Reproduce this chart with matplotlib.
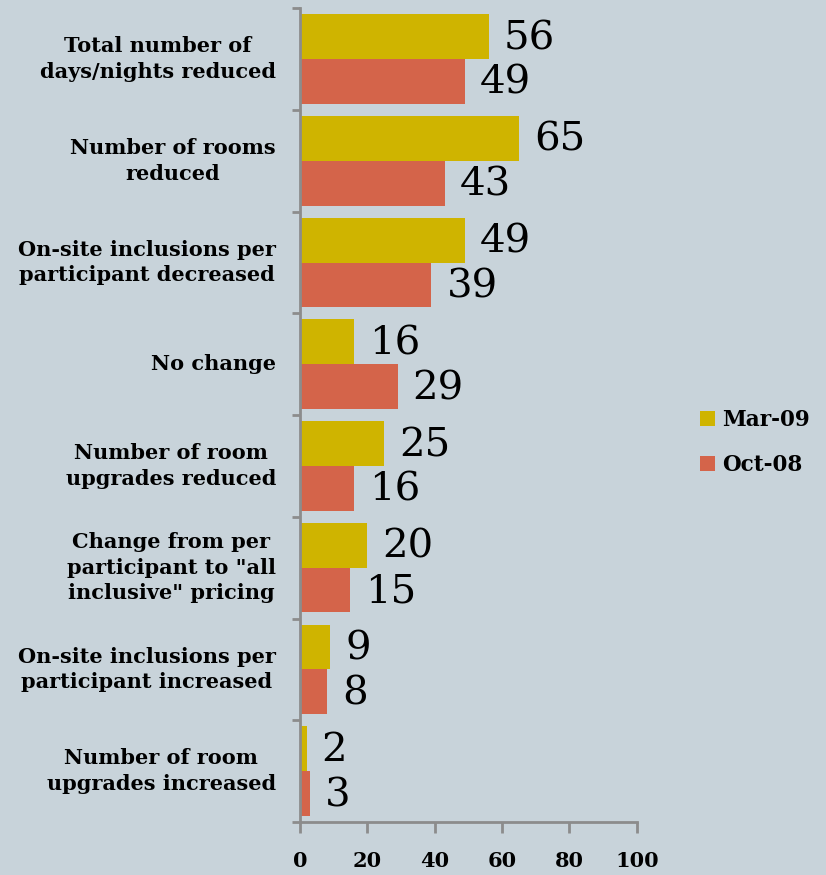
import matplotlib.pyplot as plt
import numpy as np

categories = [
    'Total number of\ndays/nights reduced',
    'Number of rooms\nreduced',
    'On-site inclusions per\nparticipant decreased',
    'No change',
    'Number of room\nupgrades reduced',
    'Change from per\nparticipant to "all\ninclusive" pricing',
    'On-site inclusions per\nparticipant increased',
    'Number of room\nupgrades increased',
]
mar09 = [56, 65, 49, 16, 25, 20, 9, 2]
oct08 = [49, 43, 39, 29, 16, 15, 8, 3]
series_names = ['Mar-09', 'Oct-08']

bg = '#C8D3DA'
c_mar = '#CFB400'
c_oct = '#D4644A'
axis_col = '#8C8C8C'

plt.rcParams['font.family'] = 'DejaVu Serif'

fig = plt.figure(figsize=(8.26, 8.75), dpi=100, facecolor=bg)
ax = fig.add_axes([0.363, 0.0606, 0.408, 0.930])
ax.set_facecolor(bg)

n = len(categories)
y = np.arange(n)
h = 0.44
b1 = ax.barh(y - h / 2, mar09, height=h, color=c_mar, label=series_names[0])
b2 = ax.barh(y + h / 2, oct08, height=h, color=c_oct, label=series_names[1])

for bars, vals in ((b1, mar09), (b2, oct08)):
    for bar, v in zip(bars, vals):
        ax.text(bar.get_width() + 4.5, bar.get_y() + bar.get_height() / 2 + 0.02, str(v),
                ha='left', va='center', fontsize=29, color='black')

ax.set_ylim(n - 0.5, -0.5)
ax.set_xlim(0, 100)
ax.set_xticks(np.arange(0, 101, 20))
ax.set_yticks(np.arange(-0.5, n, 1))
ax.set_yticklabels([])
ax.tick_params(axis='y', length=6, width=2, color=axis_col)
ax.tick_params(axis='x', length=8, width=2, color=axis_col, labelsize=15, pad=13)
for lbl in ax.get_xticklabels():
    lbl.set_fontweight('bold')

for i, c in enumerate(categories):
    ax.text(-0.071, i, c, transform=ax.get_yaxis_transform(), ha='right', va='center',
            multialignment='center', fontsize=15, fontweight='bold', linespacing=1.35)

for s in ('top', 'right'):
    ax.spines[s].set_visible(False)
for s in ('left', 'bottom'):
    ax.spines[s].set_color(axis_col)
    ax.spines[s].set_linewidth(2)

leg = fig.legend(loc='center left', bbox_to_anchor=(0.847, 0.494), frameon=False,
                 borderpad=0, borderaxespad=0, prop={'size': 15.5, 'weight': 'bold'},
                 handlelength=0.7, handleheight=0.7, handletextpad=0.33,
                 labelspacing=1.05)

fig.savefig('out.png', dpi=100, facecolor=bg)
